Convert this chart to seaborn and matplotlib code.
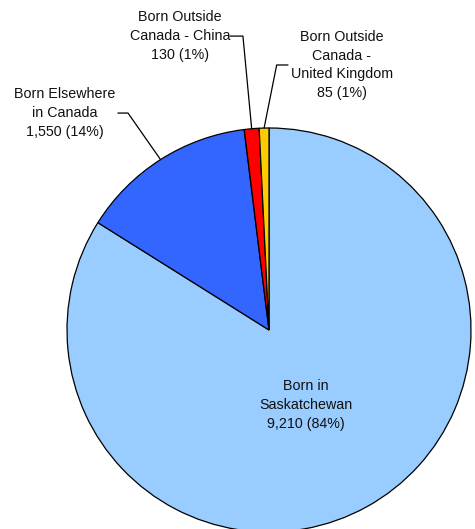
import numpy as np
import seaborn as sns
import matplotlib.pyplot as plt

# place of birth counts
categories = ['Born in\nSaskatchewan', 'Born Elsewhere\nin Canada',
              'Born Outside\nCanada - China', 'Born Outside\nCanada -\nUnited Kingdom']
counts = [9210, 1550, 130, 85]
colors = ['#99CCFF', '#3366FF', '#FF0000', '#FFCC00']

sns.set_theme(style='white')
plt.rcParams['font.family'] = ['Liberation Sans', 'DejaVu Sans']

fig = plt.figure(figsize=(4.75, 5.29), dpi=100)
ax = fig.add_axes([0, 0, 1, 1])

wedges, _ = ax.pie(counts, colors=colors, startangle=90, counterclock=False,
                   radius=1, wedgeprops=dict(edgecolor='black', linewidth=0.9))

total = sum(counts)
texts = [f'{c}\n{v:,} ({v / total * 100:.0f}%)' for c, v in zip(categories, counts)]

# label positions (x, y) and x of the leader line ends (None = inside label)
label_pos = [((0.183, -0.371), None, None),
             ((-1.01, 1.074), -0.748, -0.698),
             ((-0.441, 1.455), -0.193, -0.129),
             ((0.361, 1.312), 0.094, 0.038)]

for w, txt, (pos, x0, x1) in zip(wedges, texts, label_pos):
    ax.text(pos[0], pos[1], txt, ha='center', va='center', fontsize=10.3,
            linespacing=1.45, color='#111111')
    if x0 is None:
        continue
    mid = np.deg2rad((w.theta1 + w.theta2) / 2)
    ex, ey = np.cos(mid), np.sin(mid)
    ax.plot([x0, x1, ex], [pos[1], pos[1], ey], color='black', linewidth=0.9)

ax.set_xlim(-269 / 202, 206 / 202)
ax.set_ylim(-199 / 202, 330 / 202)
ax.set_aspect('equal')
ax.axis('off')

fig.savefig('out.png', dpi=100)
